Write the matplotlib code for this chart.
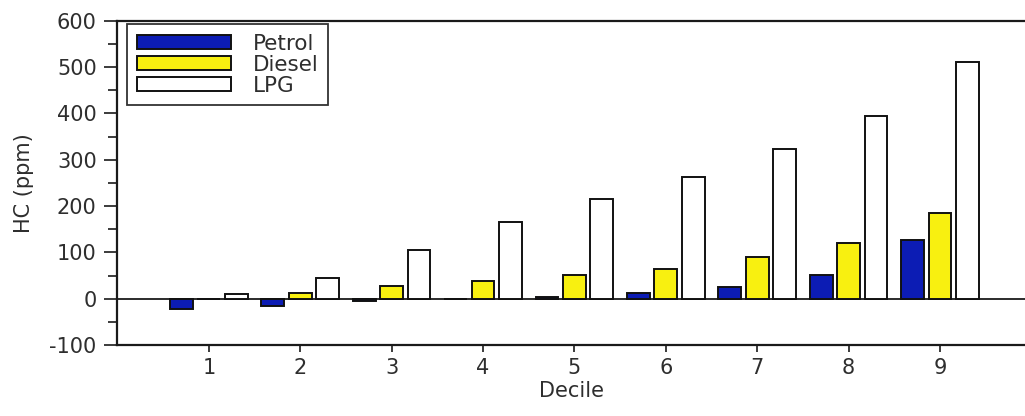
import matplotlib
matplotlib.use("Agg")
import matplotlib.pyplot as plt
import numpy as np
from matplotlib.ticker import MultipleLocator

plt.rcParams['font.family'] = ['DejaVu Sans']
plt.rcParams['axes.unicode_minus'] = False

deciles = [1, 2, 3, 4, 5, 6, 7, 8, 9]
petrol = [-22, -15, -5, 0, 3, 13, 26, 52, 126]
diesel = [0, 13, 27, 38, 52, 64, 91, 121, 186]
lpg = [9, 44, 104, 165, 216, 263, 324, 394, 510]
series_names = ["Petrol", "Diesel", "LPG"]
colors = ["#0c1cb4", "#f8f010", "#ffffff"]

txt = "#2e2e2e"
fs = 15

fig = plt.figure(figsize=(10.25, 4.16), dpi=100)
ax = fig.add_axes([0.1146, 0.1707, 0.8854, 0.7795])

x = np.array(deciles, dtype=float)
offsets = [-0.3, 0.0, 0.3]
for vals, off, col, name in zip([petrol, diesel, lpg], offsets, colors, series_names):
    ax.bar(x + off, vals, width=0.25, color=col, edgecolor="#111111",
           linewidth=1.4, label=name, zorder=3)

ax.axhline(0, color="#1a1a1a", linewidth=1.3, zorder=2)

ax.set_xlim(0, 9.93)
ax.set_ylim(-100, 600)
ax.set_xticks(deciles)
ax.set_xticklabels([str(d) for d in deciles])
ax.yaxis.set_major_locator(MultipleLocator(100))
ax.yaxis.set_minor_locator(MultipleLocator(50))

for side in ["left", "bottom", "top"]:
    ax.spines[side].set_linewidth(1.6)
    ax.spines[side].set_color("#1a1a1a")
ax.spines["right"].set_visible(False)

ax.tick_params(axis="y", which="major", length=9.5, width=1.2, pad=5.5,
               labelsize=fs, labelcolor=txt, color="#1a1a1a")
ax.tick_params(axis="y", which="minor", length=6.5, width=1.2, color="#1a1a1a")
ax.tick_params(axis="x", which="major", length=5, width=1.2, pad=4.3,
               labelsize=fs, labelcolor=txt, color="#1a1a1a")
ax.tick_params(axis="x", which="minor", bottom=False)

ax.set_xlabel("Decile", fontsize=fs, color=txt, labelpad=2.5)
ax.set_ylabel("HC (ppm)", fontsize=fs, color=txt, labelpad=11)

leg = ax.legend(loc="upper left", bbox_to_anchor=(0.0105, 0.99), borderaxespad=0,
                fontsize=15.5, frameon=True, fancybox=False, shadow=False,
                handlelength=4.4, handleheight=0.65, handletextpad=1.0,
                labelspacing=0.05, borderpad=0.45)
leg.get_frame().set_edgecolor("black")
leg.get_frame().set_linewidth(1.3)
for t in leg.get_texts():
    t.set_color(txt)

fig.savefig("out.png", dpi=100)
